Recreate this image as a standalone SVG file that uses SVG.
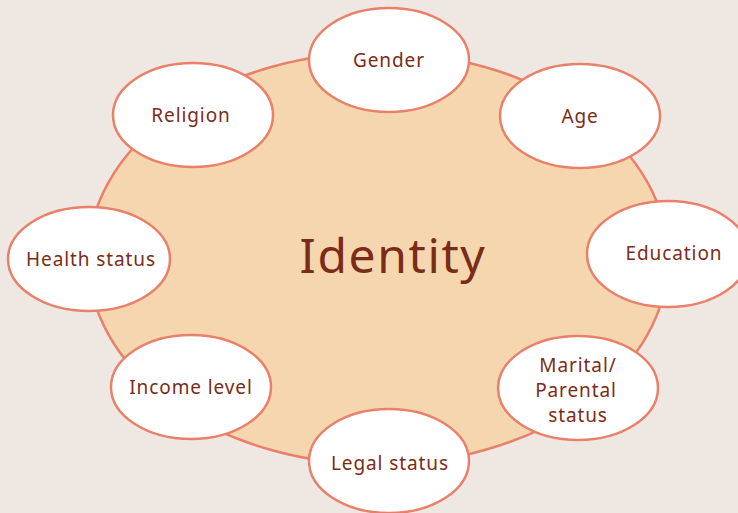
<svg xmlns="http://www.w3.org/2000/svg" width="738" height="513" viewBox="0 0 738 513">
<style>
.bg{fill:#efe7e2}
.hub{fill:#f5d6ae;stroke:#e8806a;stroke-width:2.5}
.n ellipse{fill:#ffffff;stroke:#e8806a;stroke-width:2.5}
text{font-family:"Noto Sans","Open Sans","Liberation Sans",sans-serif;fill:#7a2c18;text-anchor:middle}
.n text{font-size:19px;letter-spacing:0.9px}
.title{font-size:48px;letter-spacing:1.6px}
</style>
<rect class="bg" x="0" y="0" width="738" height="513"/>
<g id="identity">
<ellipse class="hub" cx="378" cy="258.5" rx="290" ry="206"/>
<text class="title" x="393" y="273">Identity</text>
</g>
<g id="connectors"></g>
<g id="gender" class="n"><ellipse cx="389" cy="60" rx="80" ry="52"/><text x="389" y="67">Gender</text></g>
<g id="age" class="n"><ellipse cx="580" cy="116" rx="80" ry="52"/><text x="580" y="123">Age</text></g>
<g id="religion" class="n"><ellipse cx="193" cy="115" rx="80" ry="52"/><text x="191" y="122">Religion</text></g>
<g id="health" class="n"><ellipse cx="89" cy="259" rx="81" ry="52"/><text x="91" y="266">Health status</text></g>
<g id="education" class="n"><ellipse cx="668" cy="254" rx="81" ry="53"/><text x="674" y="260">Education</text></g>
<g id="income" class="n"><ellipse cx="191" cy="387" rx="80" ry="52"/><text x="191" y="394">Income level</text></g>
<g id="marital" class="n"><ellipse cx="578" cy="388" rx="80" ry="52"/><text x="578" y="372">Marital/</text><text x="576" y="397">Parental</text><text x="578" y="422">status</text></g>
<g id="legal" class="n"><ellipse cx="389" cy="461" rx="80" ry="52"/><text x="390" y="470">Legal status</text></g>
</svg>
